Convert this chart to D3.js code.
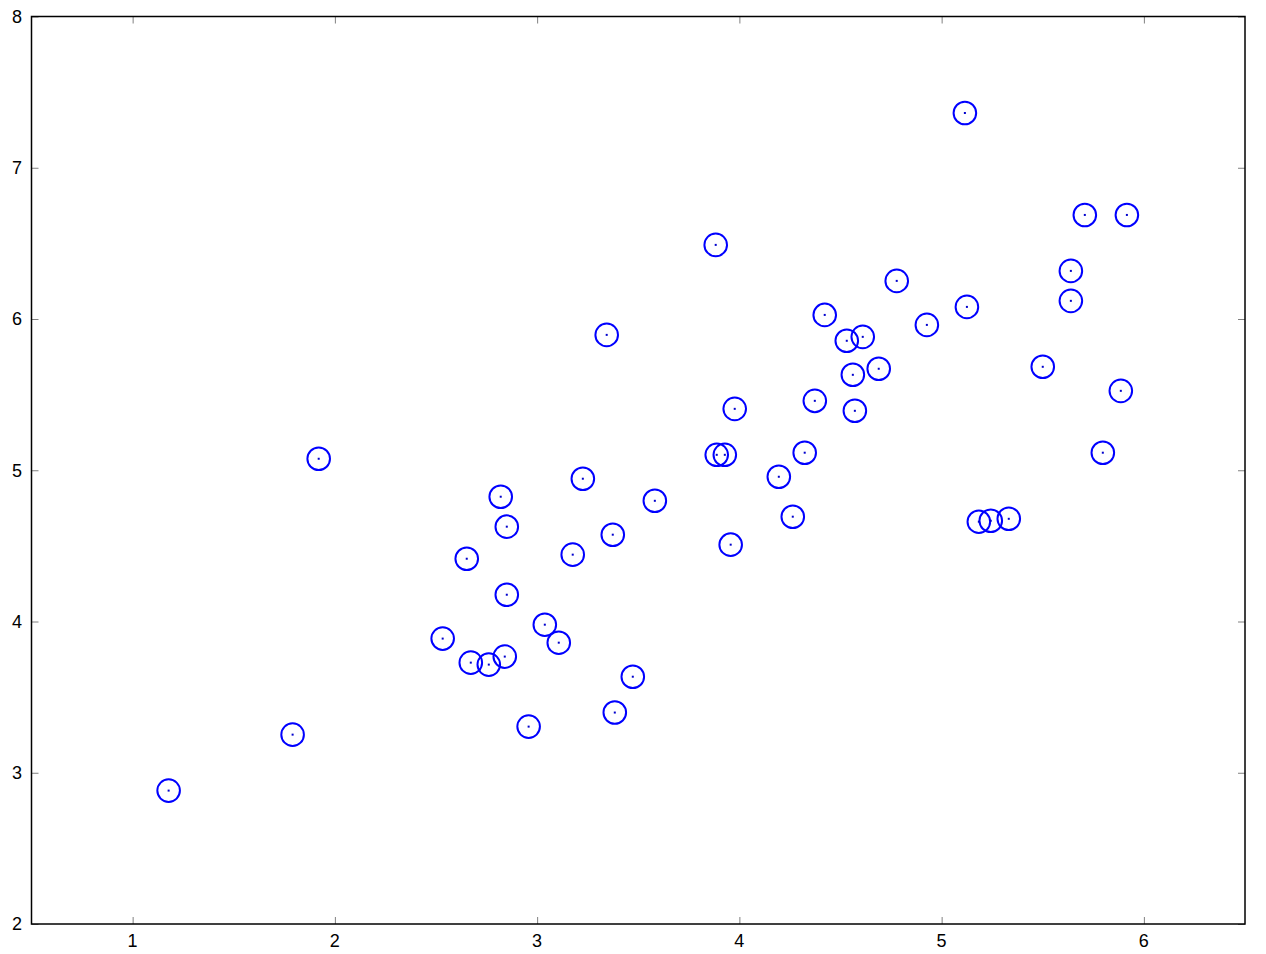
<!DOCTYPE html>
<html>
<head>
<meta charset="utf-8">
<script src="https://cdn.jsdelivr.net/npm/d3@7"></script>
<style>
  html, body { margin: 0; padding: 0; background: #fff; }
  svg { display: block; }
  text { font-family: "Liberation Sans", Arial, Helvetica, sans-serif; }
</style>
</head>
<body>
<svg id="chart" width="1266" height="954"></svg>
<script>
const xValues = [1.178, 1.791, 1.920, 2.533, 2.652, 2.672, 2.761, 2.820, 2.850, 2.850,
                 2.840, 2.958, 3.038, 3.107, 3.176, 3.226, 3.344, 3.374, 3.384, 3.473,
                 3.582, 3.883, 3.888, 3.928, 3.977, 3.957, 4.195, 4.264, 4.323, 4.373,
                 4.422, 4.531, 4.610, 4.561, 4.571, 4.689, 4.778, 4.927, 5.115, 5.125,
                 5.184, 5.243, 5.332, 5.500, 5.639, 5.639, 5.708, 5.797, 5.886, 5.916];
const yValues = [2.882, 3.252, 5.076, 3.887, 4.415, 3.728, 3.715, 4.825, 4.627, 4.177,
                 3.768, 3.305, 3.979, 3.860, 4.442, 4.944, 5.895, 4.574, 3.398, 3.635,
                 4.798, 6.490, 5.102, 5.102, 5.406, 4.508, 4.957, 4.693, 5.116, 5.459,
                 6.027, 5.856, 5.882, 5.631, 5.393, 5.671, 6.252, 5.961, 7.362, 6.080,
                 4.660, 4.666, 4.679, 5.684, 6.318, 6.120, 6.688, 5.116, 5.525, 6.688];
const xTicks = [1, 2, 3, 4, 5, 6];
const yTicks = [2, 3, 4, 5, 6, 7, 8];
const xDomain = [0.5, 6.5];
const yDomain = [2, 8];

const points = xValues.map((x, i) => ({x, y: yValues[i]}));

const W = 1266, H = 954;
const margin = {left: 31.5, top: 16.5, right: 21, bottom: 30};
const svg = d3.select("#chart");

const x = d3.scaleLinear().domain(xDomain).range([margin.left, W - margin.right]);
const y = d3.scaleLinear().domain(yDomain).range([H - margin.bottom, margin.top]);

const tickLen = 7;
const tickColor = "#808080";

// inward ticks on all four sides (no labels on top/right)
const gTicks = svg.append("g");
const bottomAxis = d3.axisBottom(x).tickValues(xTicks).tickSize(-tickLen).tickFormat("");
const topAxis = d3.axisTop(x).tickValues(xTicks).tickSize(-tickLen).tickFormat("");
const leftAxis = d3.axisLeft(y).tickValues(yTicks).tickSize(-tickLen).tickFormat("");
const rightAxis = d3.axisRight(y).tickValues(yTicks).tickSize(-tickLen).tickFormat("");

function styleAxis(g) {
  g.select(".domain").remove();
  g.selectAll(".tick line").attr("stroke", tickColor).attr("stroke-width", 1);
}
gTicks.append("g").attr("transform", `translate(0,${y(yDomain[0])})`).call(bottomAxis).call(styleAxis);
gTicks.append("g").attr("transform", `translate(0,${y(yDomain[1])})`).call(topAxis).call(styleAxis);
gTicks.append("g").attr("transform", `translate(${x(xDomain[0])},0)`).call(leftAxis).call(styleAxis);
gTicks.append("g").attr("transform", `translate(${x(xDomain[1])},0)`).call(rightAxis).call(styleAxis);

// tick labels
svg.append("g").selectAll("text.xl").data(xTicks).join("text")
  .attr("x", d => x(d)).attr("y", y(yDomain[0]) + 23)
  .attr("text-anchor", "middle").attr("font-size", 18).attr("fill", "#000")
  .text(d => d);
svg.append("g").selectAll("text.yl").data(yTicks).join("text")
  .attr("x", x(xDomain[0]) - 9.5).attr("y", d => y(d))
  .attr("dy", "0.36em")
  .attr("text-anchor", "end").attr("font-size", 18).attr("fill", "#000")
  .text(d => d);

// frame
svg.append("rect")
  .attr("x", x(xDomain[0])).attr("y", y(yDomain[1]))
  .attr("width", x(xDomain[1]) - x(xDomain[0]))
  .attr("height", y(yDomain[0]) - y(yDomain[1]))
  .attr("fill", "none").attr("stroke", "#000").attr("stroke-width", 1.5);

// markers
const gPts = svg.append("g");
gPts.selectAll("circle.ring").data(points).join("circle")
  .attr("class", "ring")
  .attr("cx", d => x(d.x)).attr("cy", d => y(d.y)).attr("r", 11.3)
  .attr("fill", "none").attr("stroke", "#0000ff").attr("stroke-width", 2);
gPts.selectAll("rect.dot").data(points).join("rect")
  .attr("class", "dot")
  .attr("x", d => x(d.x) - 1).attr("y", d => y(d.y) - 1)
  .attr("width", 2).attr("height", 2)
  .attr("fill", "#0000cc");
</script>
</body>
</html>
